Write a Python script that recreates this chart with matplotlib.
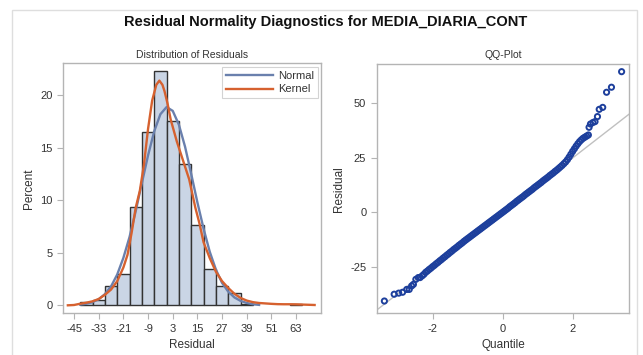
import matplotlib
matplotlib.use('Agg')
import matplotlib.pyplot as plt
from matplotlib.patches import Rectangle

plt.rcParams['font.family'] = ['Liberation Sans', 'DejaVu Sans']
plt.rcParams['axes.unicode_minus'] = False

# histogram of residuals (percent per bin, bin width 6)
bin_centers = [-39, -33, -27, -21, -15, -9, -3, 3, 9, 15, 21, 27, 33, 39, 63]
bin_percent = [0.3, 0.5, 1.8, 3.0, 9.4, 16.5, 22.3, 17.6, 13.5, 7.65, 3.45, 1.8, 1.2, 0.1, 0.1]
x_ticks = [-45, -33, -21, -9, 3, 15, 27, 39, 51, 63]

# fitted normal curve
normal_x = [-42, -39, -36, -33, -30, -27, -24, -21, -18, -15, -12, -9, -6, -3, 0,
            3, 6, 9, 12, 15, 18, 21, 24, 27, 30, 33, 36, 39, 42, 45]
normal_y = [0.07, 0.15, 0.31, 0.58, 1.06, 1.80, 2.93, 4.52, 6.51, 8.97, 11.65, 14.28,
            16.58, 18.2, 18.88, 18.52, 17.2, 15.1, 12.5, 9.8, 7.3, 5.1, 3.4, 2.13,
            1.3, 0.75, 0.42, 0.22, 0.1, 0.04]

# kernel density curve
kernel_x = [-48, -45, -42, -39, -36, -33, -30, -27, -24, -21, -19, -17, -15, -13, -11,
            -9, -7, -5, -3.5, -2, -1, 0.5, 2, 5, 8, 11, 14, 16, 18, 21, 24, 27, 30,
            33, 36, 39, 42, 45, 48, 51, 54, 57, 60, 63, 66, 69, 72]
kernel_y = [0.0, 0.03, 0.15, 0.25, 0.38, 0.6, 1.0, 1.5, 2.3, 3.6, 4.8, 6.9, 9.3, 10.9,
            13.4, 16.8, 19.5, 21.0, 21.4, 21.0, 20.4, 19.2, 17.7, 15.6, 13.8, 12.0,
            9.3, 7.8, 6.0, 4.5, 3.2, 2.3, 1.65, 1.1, 0.7, 0.45, 0.3, 0.22, 0.18, 0.14,
            0.11, 0.1, 0.1, 0.09, 0.07, 0.05, 0.03]

# QQ plot: normal quantile vs residual
qq_quantile = [-3.38, -3.10, -2.97, -2.86, -2.74, -2.67, -2.60, -2.55, -2.48, -2.41,
               -2.36, -2.30, -2.25,
               -2.20, -2.15, -2.10, -2.05, -2.00, -1.95, -1.90, -1.85, -1.80, -1.75,
               -1.70, -1.65, -1.60, -1.55, -1.50, -1.45, -1.40, -1.35, -1.30, -1.25,
               -1.20, -1.15, -1.10, -1.05, -1.00, -0.95, -0.90, -0.85, -0.80, -0.75,
               -0.70, -0.65, -0.60, -0.55, -0.50, -0.45, -0.40, -0.35, -0.30, -0.25,
               -0.20, -0.15, -0.10, -0.05, 0.00, 0.05, 0.10, 0.15, 0.20, 0.25, 0.30,
               0.35, 0.40, 0.45, 0.50, 0.55, 0.60, 0.65, 0.70, 0.75, 0.80, 0.85, 0.90,
               0.95, 1.00, 1.05, 1.10, 1.15, 1.20, 1.25, 1.30, 1.35, 1.40, 1.45, 1.50,
               1.55, 1.60, 1.65, 1.70, 1.75, 1.80, 1.85, 1.90, 1.95, 2.00, 2.05, 2.10,
               2.15, 2.20, 2.25, 2.30, 2.35, 2.40, 2.45,
               2.47, 2.51, 2.58, 2.64, 2.71, 2.76, 2.86, 2.97, 3.11, 3.40]
qq_residual = [-40.5, -37.4, -36.9, -36.5, -35.2, -35.2, -33.6, -32.9, -30.6, -29.8,
               -29.8, -29.0, -28.3,
               -27.4, -26.8, -26.1, -25.5, -24.8, -24.2, -23.5, -22.9, -22.2, -21.6,
               -20.9, -20.3, -19.6, -19.0, -18.3, -17.7, -17.0, -16.4, -15.8, -15.1,
               -14.5, -13.9, -13.2, -12.6, -12.0, -11.4, -10.8, -10.2, -9.6, -9.0,
               -8.4, -7.8, -7.2, -6.6, -6.0, -5.4, -4.8, -4.2, -3.6, -3.0,
               -2.4, -1.8, -1.2, -0.6, 0.0, 0.6, 1.2, 1.8, 2.5, 3.1, 3.7,
               4.3, 5.0, 5.6, 6.2, 6.8, 7.4, 8.1, 8.7, 9.3, 9.9, 10.5, 11.2,
               11.8, 12.4, 13.0, 13.6, 14.3, 14.9, 15.5, 16.1, 16.8, 17.4, 18.0, 18.7,
               19.3, 20.0, 20.7, 21.4, 22.2, 23.0, 24.0, 25.2, 26.5, 27.8, 29.0, 30.2,
               31.3, 32.3, 33.1, 33.8, 34.3, 34.8, 35.3,
               38.8, 40.3, 41.0, 41.4, 43.7, 47.0, 47.9, 54.8, 57.1, 64.2]
resid_mean = 0.0
resid_std = 12.4

spine_color = '#b4b4b4'
text_color = '#333333'


def style_axes(ax):
    for s in ax.spines.values():
        s.set_color(spine_color)
        s.set_linewidth(1.0)
    ax.tick_params(colors=spine_color, labelcolor=text_color, labelsize=8, length=4)


fig = plt.figure(figsize=(6.43, 3.55), dpi=100)
fig.add_artist(Rectangle((12 / 643, -0.05), 625 / 643, 1 - 10 / 355 + 0.05,
                         transform=fig.transFigure, fill=False,
                         edgecolor='#dedede', linewidth=1.0))
fig.text(326 / 643, 1 - 22 / 355, 'Residual Normality Diagnostics for MEDIA_DIARIA_CONT',
         ha='center', va='center', fontsize=10.5, fontweight='bold', color='#111111')

# left: histogram
ax1 = fig.add_axes([0.0985, 0.1175, 0.4007, 0.7042])
ax1.bar(bin_centers, bin_percent, width=6, color='#cad5e5', edgecolor='#333333',
        linewidth=1.0, zorder=2)
ax1.plot(normal_x, normal_y, color='#6a80ad', linewidth=1.7, label='Normal', zorder=3)
ax1.plot(kernel_x, kernel_y, color='#d6612f', linewidth=1.7, label='Kernel', zorder=4)
ax1.set_xlim(-50.2, 75.1)
ax1.set_ylim(-0.76, 23.05)
ax1.set_xticks(x_ticks)
ax1.set_yticks([0, 5, 10, 15, 20])
ax1.set_xlabel('Residual', fontsize=8.5, color=text_color)
ax1.set_ylabel('Percent', fontsize=8.5, color=text_color)
ax1.set_title('Distribution of Residuals', fontsize=7.5, color=text_color, pad=4)
style_axes(ax1)
leg = ax1.legend(loc='upper right', fontsize=8, handlelength=4.3, frameon=True,
                 fancybox=False, borderaxespad=0.3, labelspacing=0.35, handletextpad=0.4,
                 borderpad=0.35)
leg.get_frame().set_edgecolor('#c8c8c8')
leg.get_frame().set_linewidth(0.8)
for t in leg.get_texts():
    t.set_color(text_color)

# right: QQ plot
ax2 = fig.add_axes([0.5858, 0.1175, 0.3929, 0.7022])
ax2.axline((0, resid_mean), slope=resid_std, color='#c0c0c0', linewidth=1.0, zorder=1)
ax2.scatter(qq_quantile, qq_residual, s=14, facecolors='none', edgecolors='#1d3f9c',
            linewidths=1.4, zorder=2)
ax2.set_xlim(-3.6, 3.62)
ax2.set_ylim(-46.1, 67.7)
ax2.set_xticks([-2, 0, 2])
ax2.set_yticks([-25, 0, 25, 50])
ax2.set_xlabel('Quantile', fontsize=8.5, color=text_color)
ax2.set_ylabel('Residual', fontsize=8.5, color=text_color)
ax2.set_title('QQ-Plot', fontsize=7.5, color=text_color, pad=4)
style_axes(ax2)

fig.savefig('out.png', dpi=100)
